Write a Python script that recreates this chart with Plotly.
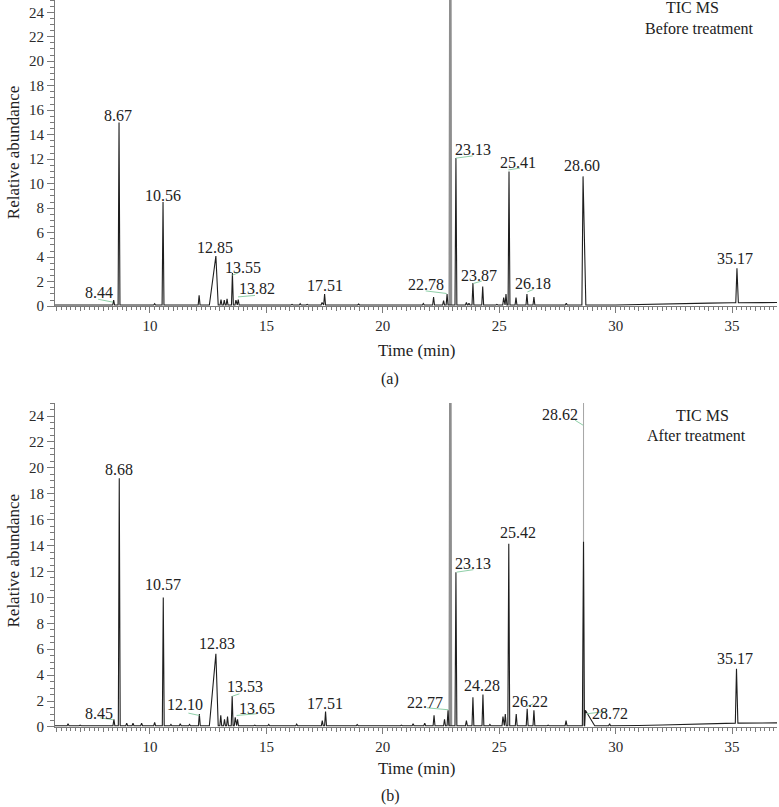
import plotly.graph_objects as go

# ---------------- data : panel (a) before treatment ----------------
peak_rt_a = [6.45, 7.3, 8.44, 8.67, 9.05, 9.45, 9.9, 10.2, 10.56, 11.1, 11.55, 12.11,
             12.83, 13.05, 13.19, 13.31, 13.54, 13.69, 13.79, 14.3, 15.3, 16.1, 16.45,
             16.75, 17.39, 17.5, 18.2, 18.96, 19.7, 20.6, 21.3, 21.74, 22.18, 22.61,
             22.76, 23.14, 23.59, 23.7, 23.87, 24.29, 24.9, 25.19, 25.29, 25.42, 25.72,
             26.19, 26.49, 27.1, 27.88, 28.6, 29.4, 30.92, 35.21]
peak_h_a = [0.12, 0.1, 0.5, 15.0, 0.15, 0.15, 0.12, 0.2, 8.5, 0.15, 0.15, 0.9,
            4.1, 0.55, 0.5, 0.6, 2.7, 0.5, 0.55, 0.12, 0.12, 0.15, 0.2,
            0.15, 0.3, 1.0, 0.12, 0.18, 0.1, 0.12, 0.15, 0.22, 0.75, 0.45,
            1.0, 12.1, 0.3, 0.25, 1.9, 1.6, 0.15, 0.7, 1.0, 11.0, 0.7,
            1.0, 0.75, 0.12, 0.25, 10.6, 0.12, 0.15, 3.1]
peak_wl_a = [0.04] * 12 + [0.28] + [0.04] * 36 + [0.05, 0.04, 0.04, 0.05]
peak_wr_a = [0.04] * 12 + [0.10] + [0.04] * 36 + [0.12, 0.04, 0.04, 0.06]
base_t_a = [5.92, 30.0, 31.0, 32.0, 33.0, 34.0, 35.0, 36.93]
base_v_a = [0.10, 0.10, 0.12, 0.16, 0.21, 0.25, 0.28, 0.30]
offscale_rt_a = [22.9]
offscale_h_a = [30.0]
faint_rt_a = []
faint_h_a = []

# ---------------- data : panel (b) after treatment ----------------
peak_rt_b = [6.48, 7.0, 7.6, 8.45, 8.68, 9.0, 9.27, 9.64, 10.2, 10.57, 10.9, 11.3, 11.7,
             12.12, 12.83, 13.04, 13.2, 13.33, 13.53, 13.66, 13.76, 14.5, 15.1, 15.7,
             16.3, 16.6, 17.4, 17.54, 18.0, 18.9, 20.0, 20.8, 21.3, 21.8, 22.2, 22.65,
             22.8, 23.14, 23.59, 23.87, 24.3, 24.6, 25.16, 25.26, 25.41, 25.73, 26.2,
             26.49, 27.1, 27.87, 28.62, 28.7, 29.74, 30.9, 35.19]
peak_h_b = [0.25, 0.15, 0.15, 0.6, 19.2, 0.3, 0.3, 0.3, 0.35, 10.0, 0.2, 0.25, 0.2,
            1.0, 5.65, 0.9, 0.6, 0.8, 2.4, 0.75, 0.6, 0.15, 0.2, 0.12,
            0.22, 0.15, 0.5, 1.2, 0.15, 0.18, 0.12, 0.15, 0.25, 0.3, 0.9, 0.6,
            1.3, 11.95, 0.5, 2.3, 2.5, 0.2, 0.8, 1.0, 14.15, 1.0, 1.4,
            1.3, 0.15, 0.5, 14.3, 1.3, 0.25, 0.15, 4.5]
peak_wl_b = [0.04] * 14 + [0.28] + [0.04] * 35 + [0.05, 0.03, 0.04, 0.04, 0.05]
peak_wr_b = [0.04] * 14 + [0.10] + [0.04] * 35 + [0.04, 0.40, 0.04, 0.04, 0.06]
base_t_b = [5.92, 30.0, 31.0, 32.0, 33.0, 34.0, 35.0, 36.93]
base_v_b = [0.10, 0.10, 0.12, 0.16, 0.20, 0.26, 0.30, 0.32]
offscale_rt_b = [22.9]
offscale_h_b = [30.0]
faint_rt_b = [28.62]
faint_h_b = [30.0]

# ---------------- peak labels ----------------
labels_a = ["8.44", "8.67", "10.56", "12.85", "13.55", "13.82", "17.51", "22.78",
            "23.13", "23.87", "25.41", "26.18", "28.60", "35.17"]
labels_b = ["8.45", "8.68", "10.57", "12.10", "12.83", "13.53", "13.65", "17.51",
            "22.77", "23.13", "24.28", "25.42", "26.22", "28.62", "28.72", "35.17"]

# label placement (layout only)
lab_pos_a = [(7.81, 1.15), (8.63, 15.55), (10.56, 9.08), (12.79, 4.83), (14.0, 3.19),
             (14.6, 1.47), (17.52, 1.72), (21.86, 1.8), (23.87, 12.77), (24.13, 2.54),
             (25.81, 11.7), (26.45, 1.88), (28.56, 11.46), (35.13, 3.93)]
lab_pos_b = [(7.81, 1.04), (8.67, 19.9), (10.56, 10.96), (11.5, 1.74), (12.88, 6.45),
             (14.08, 3.13), (14.6, 1.43), (17.52, 1.81), (21.81, 1.89), (23.87, 12.63),
             (24.26, 3.2), (25.81, 15.0), (26.32, 1.97), (27.62, 24.15), (29.76, 1.04),
             (35.13, 5.29)]
leaders_a = [((7.77, 0.57), (8.41, 0.33)), ((13.54, 2.54), (13.79, 2.72)),
             ((13.78, 0.76), (14.51, 0.88)), ((21.84, 1.25), (22.74, 1.04)),
             ((23.14, 12.09), (23.86, 12.27)), ((23.89, 1.86), (24.25, 2.05)),
             ((25.39, 11.13), (25.89, 11.27)), ((26.21, 1.17), (26.47, 1.37))]
leaders_b = [((7.85, 0.71), (8.42, 0.56)), ((11.65, 1.07), (12.12, 0.89)),
             ((13.54, 2.38), (13.84, 2.56)), ((13.72, 0.89), (14.58, 1.02)),
             ((21.89, 1.48), (22.81, 1.33)), ((23.17, 11.95), (23.89, 12.14)),
             ((26.18, 1.58), (26.46, 1.79)), ((28.26, 23.67), (28.61, 23.28)),
             ((28.76, 1.02), (29.6, 1.2))]

FONT = "Liberation Serif"
X_RANGE = [5.92, 36.93]
Y_RANGE = [0, 25]


def build_trace(rt, h, wl, wr, bt, bv):
    spans = [(t - l, t + r) for t, l, r in zip(rt, wl, wr)]
    pts = [(t, v) for t, v in zip(bt, bv) if not any(a < t < b for a, b in spans)]
    for t, hh, l, r in zip(rt, h, wl, wr):
        i = min(range(len(bt)), key=lambda k: abs(bt[k] - t))
        b = bv[i]
        pts += [(t - l, b), (t, hh), (t + r, b)]
    pts.sort(key=lambda p: p[0])
    return [p[0] for p in pts], [p[1] for p in pts]


def build_spikes(rt, h, bt, bv, half):
    xs, ys = [], []
    for t, hh in zip(rt, h):
        i = min(range(len(bt)), key=lambda k: abs(bt[k] - t))
        xs += [t - half, t, t + half, None]
        ys += [bv[i], hh, bv[i], None]
    return xs, ys


fig = go.Figure()

panels = [
    dict(rt=peak_rt_a, h=peak_h_a, wl=peak_wl_a, wr=peak_wr_a, bt=base_t_a, bv=base_v_a,
         ort=offscale_rt_a, oh=offscale_h_a, frt=faint_rt_a, fh=faint_h_a,
         xa="x", ya="y", minor_x="x3"),
    dict(rt=peak_rt_b, h=peak_h_b, wl=peak_wl_b, wr=peak_wr_b, bt=base_t_b, bv=base_v_b,
         ort=offscale_rt_b, oh=offscale_h_b, frt=faint_rt_b, fh=faint_h_b,
         xa="x2", ya="y2", minor_x="x4"),
]

for p in panels:
    ox, oy = build_spikes(p["ort"], p["oh"], p["bt"], p["bv"], 0.03)
    fig.add_trace(go.Scatter(x=ox, y=oy, mode="lines", xaxis=p["xa"], yaxis=p["ya"],
                             line=dict(color="#8e8e8e", width=2.4), showlegend=False,
                             hoverinfo="skip"))
    if p["frt"]:
        fx, fy = build_spikes(p["frt"], p["fh"], p["bt"], p["bv"], 0.005)
        fig.add_trace(go.Scatter(x=fx, y=fy, mode="lines", xaxis=p["xa"], yaxis=p["ya"],
                                 line=dict(color="#a8a8a8", width=1), showlegend=False,
                                 hoverinfo="skip"))
    tx, ty = build_trace(p["rt"], p["h"], p["wl"], p["wr"], p["bt"], p["bv"])
    fig.add_trace(go.Scatter(x=tx, y=ty, mode="lines", xaxis=p["xa"], yaxis=p["ya"],
                             line=dict(color="#1e1e1e", width=1.1), showlegend=False))
    # dummy trace to activate the fine tick axis
    fig.add_trace(go.Scatter(x=[p["bt"][0]], y=[p["bv"][0]], mode="lines",
                             xaxis=p["minor_x"], yaxis=p["ya"], showlegend=False,
                             hoverinfo="skip", line=dict(color="rgba(0,0,0,0)")))

axis_col = "#7a7a7a"
tick_font = dict(family=FONT, size=15, color="#2a2a2a")


def xaxis_main(anchor):
    return dict(anchor=anchor, range=X_RANGE, showline=True, linecolor=axis_col, linewidth=1,
                ticks="outside", ticklen=6, tickcolor=axis_col, tickwidth=1, tick0=0, dtick=5,
                minor=dict(ticks="outside", ticklen=4, tickcolor=axis_col, dtick=1, tick0=0),
                showgrid=False, zeroline=False, tickfont=tick_font)


def xaxis_fine(overlay, anchor):
    return dict(overlaying=overlay, anchor=anchor, range=X_RANGE, showline=False,
                ticks="outside", ticklen=2.5, tickcolor=axis_col, tickwidth=1, tick0=0,
                dtick=0.2, showticklabels=False, showgrid=False, zeroline=False)


def yaxis_main(anchor, domain):
    return dict(anchor=anchor, domain=domain, range=Y_RANGE, showline=True, linecolor=axis_col,
                linewidth=1, ticks="outside", ticklen=7, tickcolor=axis_col, tick0=0, dtick=2,
                minor=dict(ticks="outside", ticklen=4, tickcolor=axis_col, dtick=0.5, tick0=0),
                showgrid=False, zeroline=False, tickfont=tick_font)


annotations = []
shapes = []
txt_font = dict(family=FONT, size=16, color="#222222")
big_font = dict(family=FONT, size=17, color="#222222")
for labs, pos, xr, yr in [(labels_a, lab_pos_a, "x", "y"), (labels_b, lab_pos_b, "x2", "y2")]:
    for s, (lx, ly) in zip(labs, pos):
        annotations.append(dict(text=s, x=lx, y=ly, xref=xr, yref=yr, showarrow=False,
                                font=txt_font, xanchor="center", yanchor="middle"))
for lds, xr, yr in [(leaders_a, "x", "y"), (leaders_b, "x2", "y2")]:
    for (x0, y0), (x1, y1) in lds:
        shapes.append(dict(type="line", x0=x0, y0=y0, x1=x1, y1=y1, xref=xr, yref=yr,
                           line=dict(color="#8fcfa8", width=1)))

extra = [
    ("TIC MS", 33.32, 24.39, "x", "y", 0, txt_font),
    ("Before treatment", 33.58, 22.67, "x", "y", 0, txt_font),
    ("TIC MS", 33.75, 24.05, "x2", "y2", 0, txt_font),
    ("After treatment", 33.49, 22.5, "x2", "y2", 0, txt_font),
    ("Relative abundance", -0.058, 0.7908, "paper", "paper", -90, big_font),
    ("Relative abundance", -0.058, 0.2292, "paper", "paper", -90, big_font),
    ("Time (min)", 0.5, 0.5182, "paper", "paper", 0, big_font),
    ("Time (min)", 0.5, -0.0571, "paper", "paper", 0, big_font),
    ("(a)", 0.464, 0.4783, "paper", "paper", 0, txt_font),
    ("(b)", 0.464, -0.0943, "paper", "paper", 0, txt_font),
]
for s, x, y, xr, yr, ang, f in extra:
    annotations.append(dict(text=s, x=x, y=y, xref=xr, yref=yr, showarrow=False,
                            textangle=ang, font=f, xanchor="center",
                            yanchor="middle"))

fig.update_layout(
    width=779, height=807,
    margin=dict(l=55, r=2, t=0, b=80),
    paper_bgcolor="white", plot_bgcolor="white",
    xaxis=xaxis_main("y"),
    xaxis2=xaxis_main("y2"),
    xaxis3=xaxis_fine("x", "y"),
    xaxis4=xaxis_fine("x2", "y2"),
    yaxis=yaxis_main("x", [0.5788, 1.0]),
    yaxis2=yaxis_main("x2", [0.0, 0.4456]),
    annotations=annotations,
    shapes=shapes,
    showlegend=False,
)

fig.write_html("out.html", config={"displayModeBar": False},
               post_script="document.body.style.margin='0';document.body.style.overflow='hidden';")
